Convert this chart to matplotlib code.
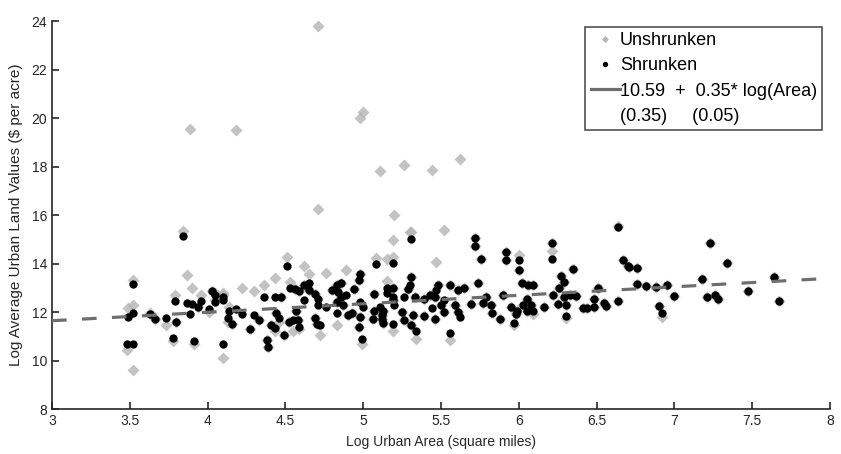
import matplotlib
matplotlib.use("Agg")
import matplotlib.pyplot as plt
from matplotlib.lines import Line2D
import numpy as np

plt.rcParams['font.family'] = ['Liberation Sans', 'DejaVu Sans']

# log urban area for each city
log_area = [
    3.84, 3.52, 3.52, 3.49, 3.48, 3.52, 3.63, 3.66, 3.73, 3.79, 3.80, 3.78, 3.91, 3.87, 3.90,
    3.89, 3.96, 3.94, 4.03, 4.05, 4.10, 4.01, 4.05, 4.13, 4.16, 4.18, 4.14, 4.10, 4.27, 4.30, 4.10,
    4.51, 4.36, 4.33, 4.38, 4.39, 4.43, 4.47, 4.44, 4.46, 4.41, 4.43, 4.49, 4.52, 4.55, 4.53,
    4.56, 4.59, 4.57, 4.58, 4.59, 4.65, 4.62, 4.65, 4.69, 4.69, 4.70, 4.72, 4.80, 4.83, 4.86,
    4.84, 4.71, 4.83, 4.86, 4.87, 4.83, 4.89, 4.94, 4.98, 4.97, 4.90, 4.93, 4.98, 4.97, 4.99,
    5.00, 5.08, 5.07, 5.07, 5.06, 5.12, 4.98, 4.71,
    5.31, 5.19, 5.19, 5.15, 5.52, 5.72, 5.72, 5.76, 5.92, 5.92, 5.31, 5.30, 5.29, 5.33, 5.15,
    5.19, 5.19, 5.20, 5.13, 5.12, 5.13, 5.19, 5.25, 5.26, 5.32, 5.31, 5.34, 5.26, 5.39, 5.39,
    5.43, 5.48, 5.47, 5.46, 5.44, 5.50, 5.52, 5.46, 5.56, 5.59, 5.61, 5.62, 5.56, 5.61, 5.65,
    5.74, 5.69, 5.79, 5.77, 5.82, 5.83, 5.88, 5.90, 5.11,
    6.64, 6.00, 6.00, 6.21, 6.21, 6.35, 6.67, 6.70, 6.02, 6.06, 6.09, 5.95, 5.99, 5.98, 6.03,
    6.05, 6.08, 6.09, 6.05, 6.16, 5.97, 6.27, 6.29, 6.26, 6.22, 6.29, 6.33, 6.37, 6.25, 6.30,
    6.30, 6.51, 6.48, 6.41, 6.44, 6.48, 6.55, 6.56, 6.64,
    6.76, 6.71, 6.76, 6.82, 6.88, 6.95, 7.00, 6.90, 6.92, 7.23, 7.34, 7.18, 7.21, 7.26, 7.28,
    7.47, 7.64, 7.67,
    4.22, 4.62, 4.76,
]

shrunk = [
    15.14, 13.15, 11.94, 11.80, 10.67, 10.67, 11.90, 11.70, 11.76, 12.46, 11.60, 10.91, 10.81, 12.39, 12.33,
    11.90, 12.45, 12.20, 12.86, 12.70, 12.63, 12.12, 12.40, 11.76, 11.49, 12.12, 12.04, 10.68, 11.32, 11.87, 12.50,
    13.89, 12.60, 11.67, 10.84, 10.57, 12.63, 12.60, 11.94, 11.76, 11.46, 11.35, 11.07, 11.60, 11.65, 12.97,
    12.93, 12.86, 12.04, 11.67, 11.39, 13.21, 13.13, 12.90, 12.76, 11.76, 11.49, 11.46, 12.90, 13.10, 13.18,
    12.83, 12.55, 12.43, 12.60, 12.29, 11.94, 12.70, 12.93, 13.55, 13.31, 11.87, 11.94, 11.80, 11.39, 10.87,
    12.21, 13.96, 12.76, 12.04, 11.73, 11.87, 12.40, 12.30,
    15.00, 14.04, 12.60, 12.80, 12.50, 15.06, 14.72, 14.20, 14.46, 14.14, 13.45, 13.13, 12.94, 12.63, 13.00,
    12.97, 12.50, 12.30, 12.04, 11.73, 11.53, 11.49, 11.99, 11.67, 11.87, 11.46, 11.20, 12.60, 11.85, 12.53,
    12.70, 13.10, 12.90, 12.63, 12.18, 12.30, 12.01, 11.73, 13.13, 12.29, 11.99, 11.80, 11.12, 12.90, 13.00,
    13.21, 12.35, 12.63, 12.39, 12.29, 11.94, 11.71, 12.70, 12.20,
    15.51, 14.14, 13.73, 14.83, 14.20, 13.76, 14.16, 13.90, 13.21, 13.10, 13.13, 12.21, 12.04, 11.90, 12.29,
    12.04, 12.29, 12.04, 12.53, 12.21, 11.53, 13.49, 13.24, 12.97, 12.70, 12.63, 12.70, 12.66, 12.35, 12.30,
    11.85, 13.01, 12.53, 12.18, 12.18, 12.21, 12.39, 12.25, 12.46,
    13.80, 13.86, 13.15, 13.07, 13.04, 13.13, 12.66, 12.24, 11.97, 14.83, 14.04, 13.36, 12.60, 12.70, 12.53,
    12.86, 13.45, 12.46,
    11.90, 12.50, 12.20,
]

unshrunk = [
    15.33, 13.30, 12.30, 12.15, 10.43, 9.60, 11.95, 11.70, 11.46, 12.70, 11.60, 10.80, 10.70, 13.52, 13.00,
    19.55, 12.70, 12.20, 12.86, 12.80, 12.70, 12.00, 12.50, 11.60, 11.50, 19.50, 12.20, 10.09, 11.30, 12.87, 12.80,
    14.25, 13.10, 11.67, 10.84, 10.57, 13.42, 12.60, 11.94, 11.60, 11.46, 11.20, 11.07, 11.60, 11.20, 13.24,
    12.93, 12.86, 12.04, 11.67, 11.30, 13.56, 13.13, 12.90, 12.76, 11.76, 11.49, 11.07, 12.90, 13.10, 13.18,
    12.83, 23.80, 12.43, 12.60, 12.29, 11.46, 13.72, 12.93, 13.55, 13.31, 11.87, 11.94, 11.80, 11.39, 10.70,
    20.25, 14.24, 12.76, 12.04, 11.73, 11.87, 20.00, 16.25,
    15.28, 14.27, 14.96, 14.20, 15.38, 15.06, 14.72, 14.20, 14.46, 14.14, 13.45, 15.30, 12.94, 12.63, 13.27,
    12.97, 12.50, 16.00, 12.04, 11.73, 11.53, 11.20, 11.99, 11.67, 11.87, 11.46, 10.90, 18.05, 11.85, 12.53,
    12.70, 13.10, 14.07, 12.63, 17.85, 12.30, 12.01, 11.73, 13.13, 12.29, 11.99, 18.30, 10.84, 12.90, 13.00,
    13.21, 12.35, 12.63, 12.39, 12.29, 11.94, 11.71, 12.70, 17.80,
    15.55, 14.37, 13.73, 14.83, 14.50, 13.76, 14.16, 13.90, 13.21, 13.10, 13.13, 12.21, 12.04, 11.90, 12.29,
    12.04, 12.29, 11.90, 12.53, 12.21, 11.45, 13.49, 13.24, 12.97, 12.70, 12.63, 12.70, 12.66, 12.35, 12.30,
    11.75, 13.01, 12.53, 12.18, 12.18, 12.21, 12.39, 12.25, 12.46,
    13.80, 13.86, 13.15, 13.07, 13.04, 13.13, 12.66, 12.24, 11.80, 14.83, 14.04, 13.36, 12.60, 12.70, 12.53,
    12.86, 13.45, 12.46,
    13.00, 13.90, 13.60,
]

# fitted line: 10.59 + 0.35 * log(Area)
intercept = 10.59
slope = 0.35
x_ticks = [3, 3.5, 4, 4.5, 5, 5.5, 6, 6.5, 7, 7.5, 8]
y_ticks = [8, 10, 12, 14, 16, 18, 20, 22, 24]

fig = plt.figure(figsize=(8.41, 4.54), dpi=100)
ax = fig.add_axes([0.0618, 0.0991, 0.9252, 0.8546])

ax.plot(log_area, unshrunk, linestyle="none", marker="D", markersize=6.3,
        markerfacecolor="#b4b4b4", markeredgecolor="none", alpha=0.8, zorder=2)
ax.plot(log_area, shrunk, linestyle="none", marker="o", markersize=6.0,
        markerfacecolor="black", markeredgecolor="none", zorder=3)

line_x = np.array([3, 8])
ax.plot(line_x, intercept + slope * line_x, color="#6e6e6e", linewidth=2.3,
        dashes=(4.6, 4.8), zorder=4)

ax.set_xlim(3, 8)
ax.set_ylim(8, 24)
ax.set_xticks(x_ticks)
ax.set_xticklabels([f"{t:g}" for t in x_ticks])
ax.set_yticks(y_ticks)
ax.tick_params(direction="in", length=5, width=1.2, labelsize=10, colors="#262626")
for side in ["top", "right"]:
    ax.spines[side].set_visible(False)
for side in ["left", "bottom"]:
    ax.spines[side].set_linewidth(1.2)
    ax.spines[side].set_color("#262626")

ax.set_xlabel("Log Urban Area (square miles)", fontsize=10, color="#262626", labelpad=5)
ax.set_ylabel("Log Average Urban Land Values (\\$ per acre)", fontsize=11, color="#262626", labelpad=6)

handles = [
    Line2D([], [], linestyle="none", marker="D", markersize=3.5, markerfacecolor="#b4b4b4", markeredgecolor="none"),
    Line2D([], [], linestyle="none", marker="o", markersize=3.8, markerfacecolor="black", markeredgecolor="none"),
    Line2D([], [], color="#6e6e6e", linewidth=2.3),
    Line2D([], [], linestyle="none"),
]
labels = ["Unshrunken", "Shrunken", "10.59  +  0.35* log(Area)", "(0.35)     (0.05)"]
leg = ax.legend(handles, labels, loc="upper right", bbox_to_anchor=(0.99, 0.985),
                fontsize=13, frameon=True, fancybox=False, handlelength=1.6,
                handletextpad=0.0, borderpad=0.3, labelspacing=0.45, borderaxespad=0)
leg.get_frame().set_edgecolor("#262626")
leg.get_frame().set_linewidth(1.2)

fig.savefig("out.png", dpi=100)
